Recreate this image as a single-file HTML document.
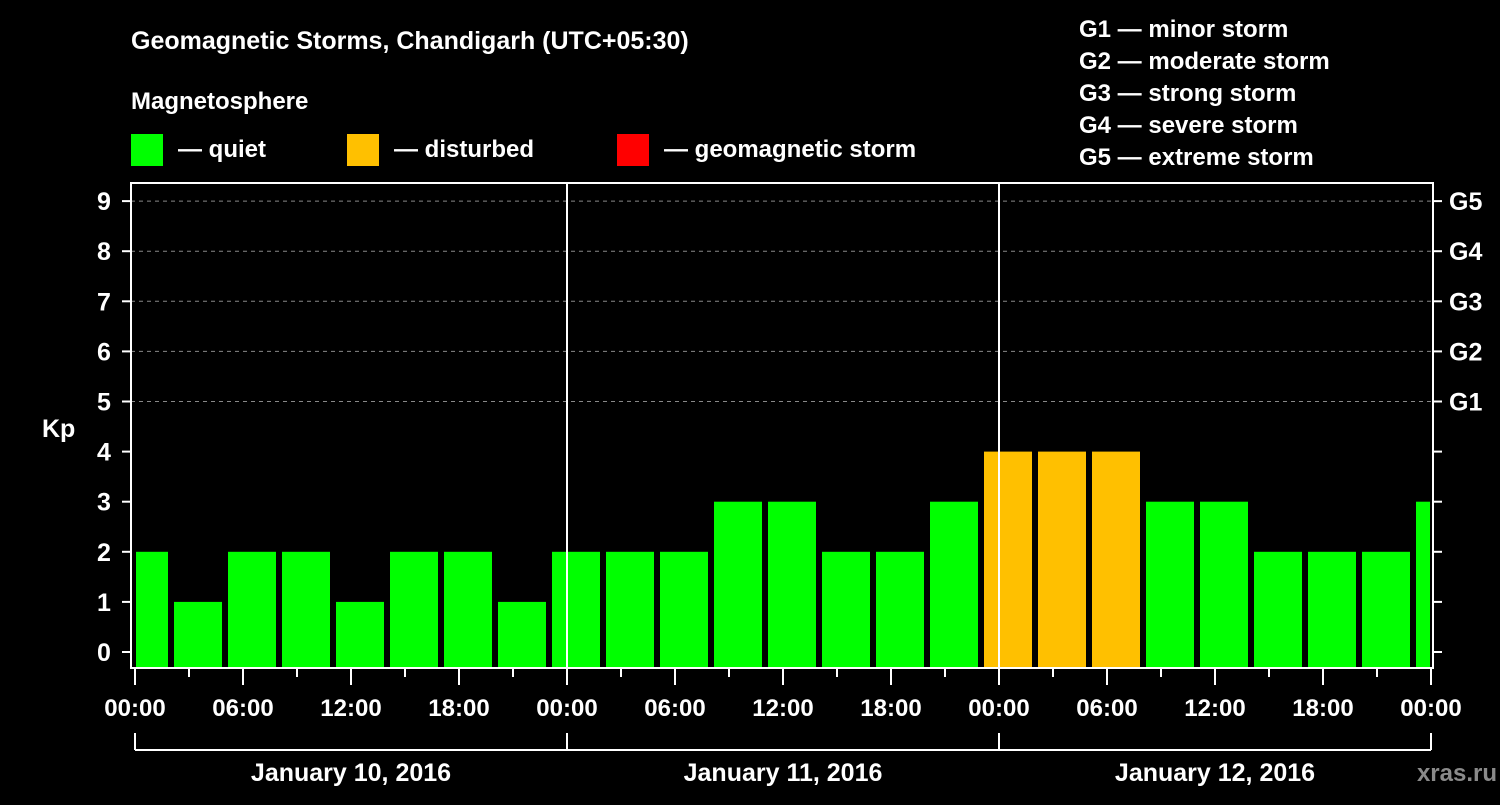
<!DOCTYPE html>
<html><head><meta charset="utf-8"><style>
body{margin:0;background:#000;}
svg text{font-family:"Liberation Sans",Arial,sans-serif;font-weight:bold;fill:#fff;}
</style></head><body>
<svg width="1500" height="800" viewBox="0 0 1500 800" id="chart">
<rect width="1500" height="800" fill="#000"/>
<text x="131" y="49" font-size="25">Geomagnetic Storms, Chandigarh (UTC+05:30)</text>
<text x="131" y="109" font-size="24">Magnetosphere</text>
<rect x="131" y="134" width="32" height="32" fill="#00ff00"/>
<text x="178" y="157" font-size="24">— quiet</text>
<rect x="347" y="134" width="32" height="32" fill="#ffc000"/>
<text x="394" y="157" font-size="24">— disturbed</text>
<rect x="617" y="134" width="32" height="32" fill="#ff0000"/>
<text x="664" y="157" font-size="24">— geomagnetic storm</text>
<g font-size="24">
<text x="1079" y="37">G1 — minor storm</text>
<text x="1079" y="69">G2 — moderate storm</text>
<text x="1079" y="101">G3 — strong storm</text>
<text x="1079" y="133">G4 — severe storm</text>
<text x="1079" y="165">G5 — extreme storm</text>
</g>
<text x="42" y="437" font-size="25">Kp</text>
<text x="1497" y="781" font-size="24" text-anchor="end" fill="#888" style="fill:#8a8a8a">xras.ru</text>
<g id="marks"></g>
</svg>
<script>
const kpValues=[2,1,2,2,1,2,2,1,2,2,2,3,3,2,2,3,4,4,4,3,3,2,2,2,3];
const yTicks=[0,1,2,3,4,5,6,7,8,9];
const gLabels=["G1","G2","G3","G4","G5"];
const xTickLabels=["00:00","06:00","12:00","18:00","00:00","06:00","12:00","18:00","00:00","06:00","12:00","18:00","00:00"];
const dayLabels=["January 10, 2016","January 11, 2016","January 12, 2016"];
const firstBoundaryHour=-1; // bars start at local 02:00 boundaries (first bar clipped)
const L=131,R=1433,T=183,B=668,X0=135,PXH=18;
const xs=h=>X0+h*PXH;
const ys=k=>652-k*50.1;
const ns="http://www.w3.org/2000/svg";
const g=document.getElementById('marks');
function mk(t,a){const e=document.createElementNS(ns,t);for(const k in a)e.setAttribute(k,a[k]);g.appendChild(e);return e;}
// grid
for(let k=5;k<=9;k++){const e=mk('line',{x1:L,x2:R,y1:ys(k),y2:ys(k),stroke:'#888','stroke-dasharray':'4,4','stroke-width':1});

}
// bars
kpValues.forEach((v,i)=>{
 let s=xs(firstBoundaryHour+3*i)+3, e2=xs(firstBoundaryHour+3*i+3)-3;
 s=Math.max(s,X0+1); e2=Math.min(e2,R-3);
 const c=v>=5?'#ff0000':(v>=4?'#ffc000':'#00ff00');
 const r=mk('rect',{x:s,y:ys(v),width:e2-s,height:B-ys(v),fill:c});
 
 
});
// day separators
[24,48].forEach(h=>{const e=mk('line',{x1:xs(h),x2:xs(h),y1:T,y2:B,stroke:'#fff','stroke-width':2});

});
// frame
const f=mk('rect',{x:L,y:T,width:R-L,height:B-T,fill:'none',stroke:'#fff','stroke-width':2});


// y ticks
yTicks.forEach(k=>{
 mk('line',{x1:122,x2:L,y1:ys(k),y2:ys(k),stroke:'#fff','stroke-width':2});
 mk('line',{x1:R,x2:1442,y1:ys(k),y2:ys(k),stroke:'#fff','stroke-width':2});
 const t=mk('text',{x:104,y:ys(k)+9,'font-size':25,'text-anchor':'middle'});t.textContent=k;
 
 
});
gLabels.forEach((l,i)=>{const t=mk('text',{x:1449,y:ys(5+i)+9,'font-size':25});t.textContent=l;
 
 });
// x ticks
for(let h=0;h<=72;h+=3){const maj=h%6==0;mk('line',{x1:xs(h),x2:xs(h),y1:B,y2:maj?685:677,stroke:'#fff','stroke-width':2});}
xTickLabels.forEach((l,i)=>{const t=mk('text',{x:xs(i*6),y:716,'font-size':24,'text-anchor':'middle'});t.textContent=l;
 
 });
// day bracket
mk('line',{x1:xs(0),x2:xs(72),y1:750,y2:750,stroke:'#fff','stroke-width':2});
for(let d=0;d<=3;d++)mk('line',{x1:xs(24*d),x2:xs(24*d),y1:733,y2:750,stroke:'#fff','stroke-width':2});
dayLabels.forEach((l,i)=>{const t=mk('text',{x:xs(24*i+12),y:781,'font-size':25,'text-anchor':'middle'});t.textContent=l;
 
 });
</script>
</body></html>
